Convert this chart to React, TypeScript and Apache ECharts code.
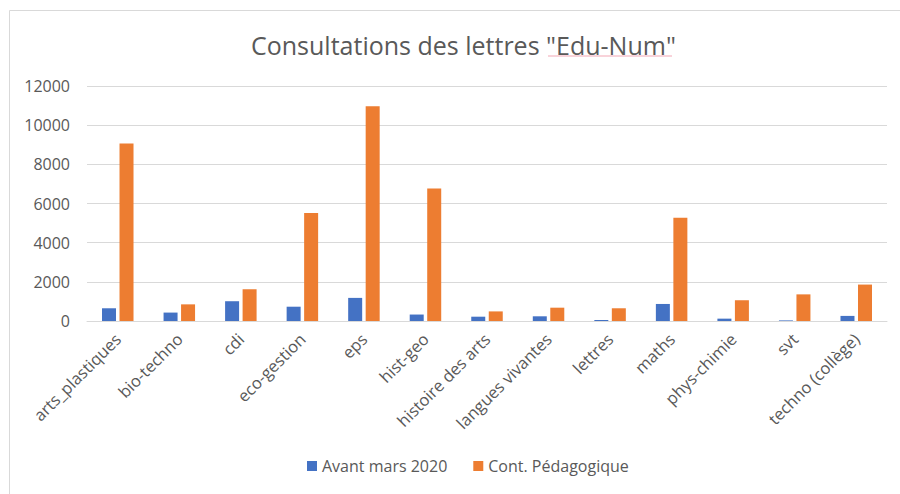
import React, { useEffect, useRef } from "react";
import * as echarts from "echarts";

const categories = [
  "arts_plastiques",
  "bio-techno",
  "cdi",
  "eco-gestion",
  "eps",
  "hist-geo",
  "histoire des arts",
  "langues vivantes",
  "lettres",
  "maths",
  "phys-chimie",
  "svt",
  "techno (collège)",
];
const avantMars2020 = [650, 430, 1010, 730, 1180, 330, 220, 240, 50, 870, 120, 30, 260];
const contPedagogique = [9070, 850, 1620, 5510, 10960, 6770, 490, 680, 650, 5270, 1060, 1360, 1860];
const seriesNames = ["Avant mars 2020", "Cont. Pédagogique"];
const titleText = 'Consultations des lettres "Edu-Num"';

const FONT = '"Open Sans", "Noto Sans", sans-serif';
const GRAY = "#595959";

export default function App() {
  const ref = useRef<HTMLDivElement>(null);
  useEffect(() => {
    document.body.style.margin = "0";
    if (!ref.current) return;
    const chart = echarts.init(ref.current, undefined, { renderer: "svg" });
    chart.setOption({
      animation: false,
      backgroundColor: "#ffffff",
      title: {
        text: titleText,
        left: 246,
        top: 27,
        textStyle: { fontFamily: FONT, fontSize: 25, fontWeight: "normal", color: GRAY },
      },
      graphic: [
        {
          type: "rect",
          shape: { x: 9.5, y: 10.5, width: 900, height: 500 },
          style: { fill: "none", stroke: "#d9d9d9", lineWidth: 1 },
          silent: true,
        },
        {
          type: "line",
          shape: { x1: 548, y1: 56, x2: 672, y2: 56 },
          style: { stroke: "#f2a7b5", lineWidth: 1 },
          silent: true,
        },
      ],
      legend: {
        data: seriesNames,
        bottom: 15,
        left: 302,
        itemWidth: 10,
        itemHeight: 10,
        itemGap: 26,
        icon: "rect",
        textStyle: { fontFamily: FONT, fontSize: 16, color: GRAY },
      },
      grid: { left: 87, right: 13, top: 86, bottom: 173, containLabel: false },
      xAxis: {
        type: "category",
        data: categories,
        axisLine: { lineStyle: { color: "#d9d9d9" } },
        axisTick: { show: false },
        axisLabel: {
          interval: 0,
          rotate: 45,
          margin: 15,
          fontFamily: FONT,
          fontSize: 16.5,
          color: GRAY,
        },
      },
      yAxis: {
        type: "value",
        min: 0,
        max: 12000,
        interval: 2000,
        axisLine: { show: false },
        axisTick: { show: false },
        splitLine: { lineStyle: { color: "#d9d9d9" } },
        axisLabel: {
          fontFamily: FONT,
          fontSize: 16,
          color: GRAY,
          margin: 17,
          formatter: (v: number) => String(v),
        },
      },
      series: [
        {
          name: seriesNames[0],
          type: "bar",
          data: avantMars2020,
          barWidth: 14,
          barGap: "25%",
          itemStyle: { color: "#4472C4" },
        },
        {
          name: seriesNames[1],
          type: "bar",
          data: contPedagogique,
          barWidth: 14,
          itemStyle: { color: "#ED7D31" },
        },
      ],
    });
    return () => chart.dispose();
  }, []);
  return <div ref={ref} style={{ width: 900, height: 494 }} />;
}
